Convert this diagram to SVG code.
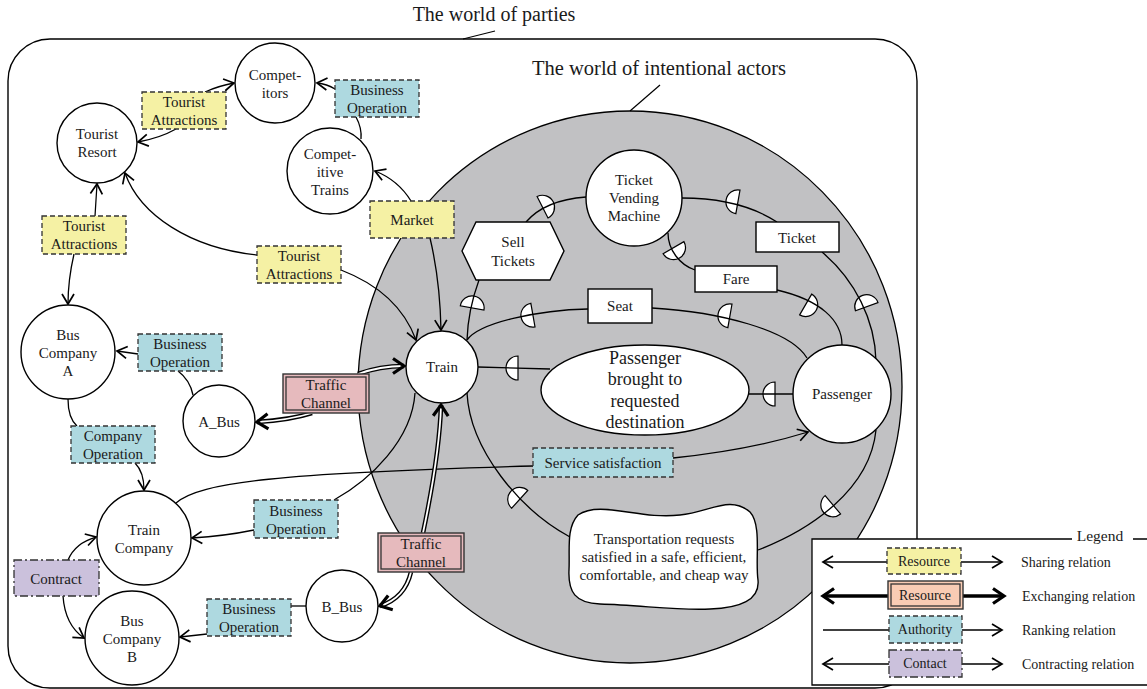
<svg xmlns="http://www.w3.org/2000/svg" width="1147" height="689" viewBox="0 0 1147 689">
<defs>
<style>
text{font-family:"Liberation Serif","Times New Roman",serif;font-size:15px;fill:#1a1a1a;text-anchor:middle}
.node{fill:#fff;stroke:#000;stroke-width:1.4}
.ln{fill:none;stroke:#000;stroke-width:1.3}
.ar{marker-end:url(#arr)}
.yel{fill:#f5f1a4;stroke:#333;stroke-width:1.3;stroke-dasharray:5,3}
.blu{fill:#aed9e0;stroke:#333;stroke-width:1.3;stroke-dasharray:5,3}
.pur{fill:#cbc1dc;stroke:#333;stroke-width:1.3;stroke-dasharray:8,3,2,3}
.red{fill:#e6babd;stroke:#333;stroke-width:1.4}
.sal{fill:#f9ccb4;stroke:#333;stroke-width:1.4}
.inr{fill:none;stroke:#333;stroke-width:1.3}
.dbo{fill:none;stroke:#000;stroke-width:4.6}
.dbi{fill:none;stroke:#fff;stroke-width:1.8;marker-end:url(#arrT)}
.dm{fill:#fff;stroke:#000;stroke-width:1.2}
.lg{font-size:14px;text-anchor:start}
.lgb{font-size:14px}
</style>
<marker id="arr" markerUnits="userSpaceOnUse" viewBox="-12 -8 14 16" markerWidth="14" markerHeight="16" refX="0" refY="0" orient="auto" overflow="visible">
<path d="M-10,-6 L0,0 L-10,6" fill="none" stroke="#000" stroke-width="1.7"/>
</marker>
<marker id="arrT" markerUnits="userSpaceOnUse" viewBox="-14 -10 16 20" markerWidth="16" markerHeight="20" refX="0" refY="0" orient="auto" overflow="visible">
<path d="M-11,-7.5 L0,0 L-11,7.5" fill="none" stroke="#000" stroke-width="3.2"/>
</marker>
<path id="dmk" d="M-5,-12 A12,12 0 0 1 -5,12 Z"/>
</defs>

<g id="world-of-parties">
<rect x="8" y="39" width="909" height="649" rx="42" fill="#fff" stroke="#000" stroke-width="1.4"/>
<text x="494" y="21" style="font-size:20px">The world of parties</text>
<line x1="463" y1="39" x2="495" y2="31" stroke="#000" stroke-width="1.2"/>
</g>

<g id="world-of-intentional-actors">
<ellipse cx="630" cy="387" rx="272" ry="276" fill="#c1c1c3" stroke="#000" stroke-width="1.3"/>
<text x="659" y="75" style="font-size:20.5px">The world of intentional actors</text>
<line x1="660" y1="85" x2="630" y2="111" stroke="#000" stroke-width="1.2"/>
</g>

<g id="dependency-markers">
<use href="#dmk" class="dm" transform="translate(547,205) rotate(-27)"/>
<use href="#dmk" class="dm" transform="translate(473,303) rotate(-80)"/>
<use href="#dmk" class="dm" transform="translate(733,201) rotate(190)"/>
<use href="#dmk" class="dm" transform="translate(865,302) rotate(-110)"/>
<use href="#dmk" class="dm" transform="translate(676,252) rotate(60)"/>
<use href="#dmk" class="dm" transform="translate(810,307) rotate(30)"/>
<use href="#dmk" class="dm" transform="translate(528,316) rotate(170)"/>
<use href="#dmk" class="dm" transform="translate(725,315) rotate(190)"/>
<use href="#dmk" class="dm" transform="translate(513,368) rotate(180)"/>
<use href="#dmk" class="dm" transform="translate(770,394) rotate(180)"/>
<use href="#dmk" class="dm" transform="translate(516,496) rotate(-138)"/>
<use href="#dmk" class="dm" transform="translate(829,508) rotate(140)"/>
</g>

<g id="connectors">
<!-- intentional links -->
<path class="ln" d="M526,222 Q545,200 586,197"/>
<path class="ln" d="M479,280 Q468,310 467,340"/>
<path class="ln" d="M682,198 Q740,198 777,222"/>
<path class="ln" d="M822,252 C855,280 875,320 876,361"/>
<path class="ln" d="M668,233 C668,250 680,265 695,270"/>
<path class="ln" d="M777,290 C820,300 842,320 842,345"/>
<path class="ln" d="M467,340 C480,322 540,310 588,309"/>
<path class="ln" d="M652,308 C720,312 790,330 807,358"/>
<path class="ln" d="M478,367 L550,369"/>
<path class="ln" d="M749,394 L793,394"/>
<path class="ln" d="M467,393 C470,450 520,510 570,537"/>
<path class="ln" d="M758,550 C810,530 870,490 876,430"/>
<!-- sharing -->
<path class="ln ar" d="M205,92 Q218,86 234,83"/>
<path class="ln ar" d="M176,129 Q160,138 138,142"/>
<path class="ln ar" d="M411,201 Q398,180 375,171"/>
<path class="ln ar" d="M430,238 Q440,280 441,330"/>
<path class="ln ar" d="M257,255 C190,248 140,215 125,173"/>
<path class="ln ar" d="M341,270 C380,285 405,310 416,340"/>
<path class="ln ar" d="M95,216 L97,184"/>
<path class="ln ar" d="M74,254 Q68,280 68,304"/>
<!-- ranking -->
<path class="ln ar" d="M335,89 Q327,84 317,83"/>
<path class="ln" d="M361,139 Q362,128 356,117"/>
<path class="ln ar" d="M138,354 L117,351"/>
<path class="ln" d="M193,395 Q190,380 178,371"/>
<path class="ln" d="M68,399 Q68,418 77,426"/>
<path class="ln ar" d="M135,463 Q144,472 144,490"/>
<path class="ln" d="M415,393 C412,440 370,480 334,500"/>
<path class="ln ar" d="M254,530 Q225,536 192,538"/>
<path class="ln" d="M176,503 C200,482 280,473 533,466"/>
<path class="ln ar" d="M673,458 Q750,450 808,432"/>
<path class="ln" d="M291,606 L306,606"/>
<path class="ln ar" d="M207,634 L180,637"/>
<!-- contracting -->
<path class="ln ar" d="M68,560 Q75,543 96,537"/>
<path class="ln ar" d="M63,596 Q65,625 84,638"/>
<!-- exchanging (double lines) -->
<path class="dbo" d="M358,374 Q380,366 404,366"/>
<path class="dbi" d="M358,374 Q380,366 404,366"/>
<path class="dbo" d="M312,413 Q290,420 257,422"/>
<path class="dbi" d="M312,413 Q290,420 257,422"/>
<path class="dbo" d="M423,533 C432,490 440,440 441,405"/>
<path class="dbi" d="M423,533 C432,490 440,440 441,405"/>
<path class="dbo" d="M411,572 Q405,598 380,606"/>
<path class="dbi" d="M411,572 Q405,598 380,606"/>
</g>

<g id="competitors"><circle class="node" cx="275" cy="83" r="40"/><text x="275" y="80">Compet-</text><text x="275" y="98">itors</text></g>
<g id="tourist-resort"><circle class="node" cx="97" cy="143" r="40"/><text x="97" y="139">Tourist</text><text x="97" y="157">Resort</text></g>
<g id="competitive-trains"><circle class="node" cx="330" cy="171" r="43"/><text x="330" y="159">Compet-</text><text x="330" y="177">itive</text><text x="330" y="195">Trains</text></g>
<g id="bus-company-a"><circle class="node" cx="68" cy="352" r="47"/><text x="68" y="340">Bus</text><text x="68" y="358">Company</text><text x="68" y="376">A</text></g>
<g id="a-bus"><circle class="node" cx="219" cy="421" r="36"/><text x="219" y="427">A_Bus</text></g>
<g id="train-company"><circle class="node" cx="144" cy="538" r="47"/><text x="144" y="535">Train</text><text x="144" y="553">Company</text></g>
<g id="bus-company-b"><circle class="node" cx="132" cy="638" r="47"/><text x="132" y="626">Bus</text><text x="132" y="644">Company</text><text x="132" y="662">B</text></g>
<g id="b-bus"><circle class="node" cx="342" cy="606" r="36"/><text x="342" y="612">B_Bus</text></g>
<g id="train"><circle class="node" cx="442" cy="367" r="36"/><text x="442" y="372">Train</text></g>
<g id="ticket-vending-machine"><circle class="node" cx="634" cy="198" r="48"/><text x="634" y="185">Ticket</text><text x="634" y="203">Vending</text><text x="634" y="221">Machine</text></g>
<g id="passenger"><circle class="node" cx="842" cy="394" r="49"/><text x="842" y="399">Passenger</text></g>
<g id="goal-destination"><ellipse class="node" cx="645" cy="390" rx="104" ry="45"/><text x="645" y="364" style="font-size:18px">Passenger</text><text x="645" y="385" style="font-size:18px">brought to</text><text x="645" y="407" style="font-size:18px">requested</text><text x="645" y="428" style="font-size:18px">destination</text></g>
<g id="sell-tickets"><polygon class="node" points="462,251 476,222 550,222 564,251 550,280 476,280"/><text x="513" y="247">Sell</text><text x="513" y="266">Tickets</text></g>
<g id="ticket"><rect class="node" x="756" y="222" width="83" height="30"/><text x="797" y="243">Ticket</text></g>
<g id="fare"><rect class="node" x="695" y="266" width="82" height="26"/><text x="736" y="284">Fare</text></g>
<g id="seat"><rect class="node" x="588" y="289" width="64" height="34"/><text x="620" y="311">Seat</text></g>
<g id="softgoal-transport"><path class="node" d="M578,515 C600,500 640,520 680,515 C710,512 730,495 750,512 C762,525 755,560 758,580 C760,600 740,608 710,609 C680,611 640,605 600,604 C575,603 568,592 569,570 C570,550 566,528 578,515 Z"/><text x="664" y="544">Transportation requests</text><text x="664" y="562">satisfied in a safe, efficient,</text><text x="664" y="580">comfortable, and cheap way</text></g>

<g id="lbl-tourist-attractions-1"><rect class="yel" x="142" y="92" width="84" height="37"/><text x="184" y="107">Tourist</text><text x="184" y="125">Attractions</text></g>
<g id="lbl-tourist-attractions-2"><rect class="yel" x="42" y="216" width="84" height="38"/><text x="84" y="231">Tourist</text><text x="84" y="249">Attractions</text></g>
<g id="lbl-tourist-attractions-3"><rect class="yel" x="257" y="246" width="84" height="37"/><text x="299" y="261">Tourist</text><text x="299" y="279">Attractions</text></g>
<g id="lbl-market"><rect class="yel" x="370" y="201" width="84" height="37"/><text x="412" y="225">Market</text></g>
<g id="lbl-business-operation-1"><rect class="blu" x="335" y="80" width="84" height="37"/><text x="377" y="95">Business</text><text x="377" y="113">Operation</text></g>
<g id="lbl-business-operation-2"><rect class="blu" x="138" y="334" width="84" height="37"/><text x="180" y="349">Business</text><text x="180" y="367">Operation</text></g>
<g id="lbl-company-operation"><rect class="blu" x="71" y="426" width="84" height="37"/><text x="113" y="441">Company</text><text x="113" y="459">Operation</text></g>
<g id="lbl-business-operation-3"><rect class="blu" x="254" y="500" width="84" height="38"/><text x="296" y="516">Business</text><text x="296" y="534">Operation</text></g>
<g id="lbl-business-operation-4"><rect class="blu" x="207" y="599" width="84" height="37"/><text x="249" y="614">Business</text><text x="249" y="632">Operation</text></g>
<g id="lbl-service-satisfaction"><rect class="blu" x="533" y="448" width="140" height="29"/><text x="603" y="468">Service satisfaction</text></g>
<g id="lbl-contract"><rect class="pur" x="14" y="560" width="85" height="36"/><text x="56" y="584">Contract</text></g>
<g id="lbl-traffic-channel-1"><rect class="red" x="283" y="374" width="86" height="39"/><rect class="inr" x="286" y="377" width="80" height="33"/><text x="326" y="390">Traffic</text><text x="326" y="408">Channel</text></g>
<g id="lbl-traffic-channel-2"><rect class="red" x="378" y="533" width="86" height="39"/><rect class="inr" x="381" y="536" width="80" height="33"/><text x="421" y="549">Traffic</text><text x="421" y="567">Channel</text></g>

<g id="legend">
<rect x="812" y="539" width="345" height="146" fill="#fff" stroke="none"/>
<path d="M1072,539 L812,539 L812,685 L1147,685 M1133,539 L1147,539" fill="none" stroke="#000" stroke-width="1.3"/>
<text x="1100" y="541" style="font-size:15.5px">Legend</text>
<path class="ln ar" d="M887,562 L823,562" style="stroke-width:1.6"/>
<path class="ln ar" d="M961,562 L1002,562" style="stroke-width:1.6"/>
<rect class="yel" x="887" y="548" width="74" height="26"/><text class="lgb" x="924" y="566">Resource</text>
<text class="lg" x="1021" y="567">Sharing relation</text>
<path d="M888,596 L823,596" fill="none" stroke="#000" stroke-width="3.5" marker-end="url(#arrT)"/>
<path d="M963,596 L1004,596" fill="none" stroke="#000" stroke-width="3.5" marker-end="url(#arrT)"/>
<rect class="sal" x="888" y="581" width="75" height="28"/><rect class="inr" x="891" y="584" width="69" height="22"/><text class="lgb" x="925" y="600">Resource</text>
<text class="lg" x="1022" y="601">Exchanging relation</text>
<path class="ln" d="M823,630 L889,630" style="stroke-width:1.6"/>
<path class="ln ar" d="M962,630 L1002,630" style="stroke-width:1.6"/>
<rect class="blu" x="889" y="616" width="73" height="27"/><text class="lgb" x="925" y="634">Authority</text>
<text class="lg" x="1022" y="635">Ranking relation</text>
<path class="ln ar" d="M889,664 L823,664" style="stroke-width:1.6"/>
<path class="ln ar" d="M962,664 L1002,664" style="stroke-width:1.6"/>
<rect class="pur" x="889" y="650" width="73" height="27"/><text class="lgb" x="925" y="668">Contact</text>
<text class="lg" x="1022" y="669">Contracting relation</text>
</g>
</svg>
